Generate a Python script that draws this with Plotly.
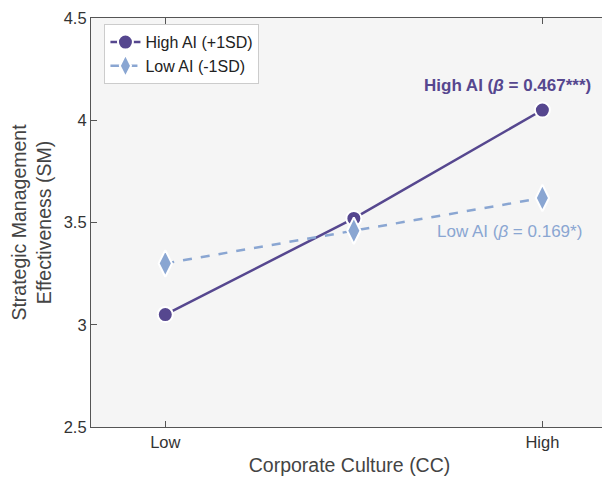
import plotly.graph_objects as go

x_pos = [0, 0.5, 1]
x_tick_vals = [0, 1]
x_tick_text = ["Low", "High"]
high_ai = [3.05, 3.52, 4.05]
low_ai = [3.30, 3.46, 3.62]
y_ticks = [2.5, 3, 3.5, 4, 4.5]

c_high = "#56478F"
c_low = "#8AA6D2"

fig = go.Figure()
fig.add_trace(go.Scatter(
    x=x_pos, y=high_ai, mode="lines+markers", name="High AI (+1SD)",
    line=dict(color=c_high, width=2.5),
    marker=dict(symbol="circle", size=15, color=c_high, line=dict(color="white", width=2)),
))
fig.add_trace(go.Scatter(
    x=x_pos, y=low_ai, mode="lines+markers", name="Low AI (-1SD)",
    line=dict(color=c_low, width=2.5, dash="dash"),
    marker=dict(symbol="diamond-tall", size=19, color=c_low, line=dict(color="white", width=2)),
))

fig.add_annotation(x=0.907, y=4.17, text="<b>High AI (<i>β</i> = 0.467***)</b>", showarrow=False,
                   font=dict(color=c_high, size=17, family="Liberation Sans, Arial"))
fig.add_annotation(x=0.912, y=3.455, text="Low AI (<i>β</i> = 0.169*)", showarrow=False,
                   font=dict(color=c_low, size=17, family="Liberation Sans, Arial"))

axis_common = dict(showline=True, linecolor="#555555", linewidth=1.2, mirror="ticks",
                   ticks="inside", ticklen=6, tickcolor="#555555", showgrid=False, zeroline=False,
                   ticklabeloverflow="allow", automargin=False,
                   tickfont=dict(size=16.5, color="#333333"))

fig.update_layout(
    width=610, height=484,
    paper_bgcolor="white", plot_bgcolor="#F5F5F5",
    font=dict(family="Liberation Sans, Arial, sans-serif", color="#333333"),
    margin=dict(l=83, r=10, t=10, b=65),
    xaxis=dict(range=[-0.197, 1.174], tickvals=x_tick_vals, ticktext=x_tick_text,
               title=dict(text="Corporate Culture (CC)", font=dict(size=19.5, color="#444444"), standoff=8),
               **axis_common),
    yaxis=dict(range=[2.5, 4.5], tickvals=y_ticks, ticktext=["2.5", "3", "3.5", "4", "4.5"],
               title=dict(text="Strategic Management<br>Effectiveness (SM)", font=dict(size=19.5, color="#444444"), standoff=8),
               **axis_common),
    legend=dict(x=0.026, y=0.985, xanchor="left", yanchor="top", bgcolor="white",
                bordercolor="#CCCCCC", borderwidth=1, font=dict(size=16, color="#222222"),
                itemwidth=30, tracegroupgap=0),
    showlegend=True,
)

fig.write_html("out.html")
